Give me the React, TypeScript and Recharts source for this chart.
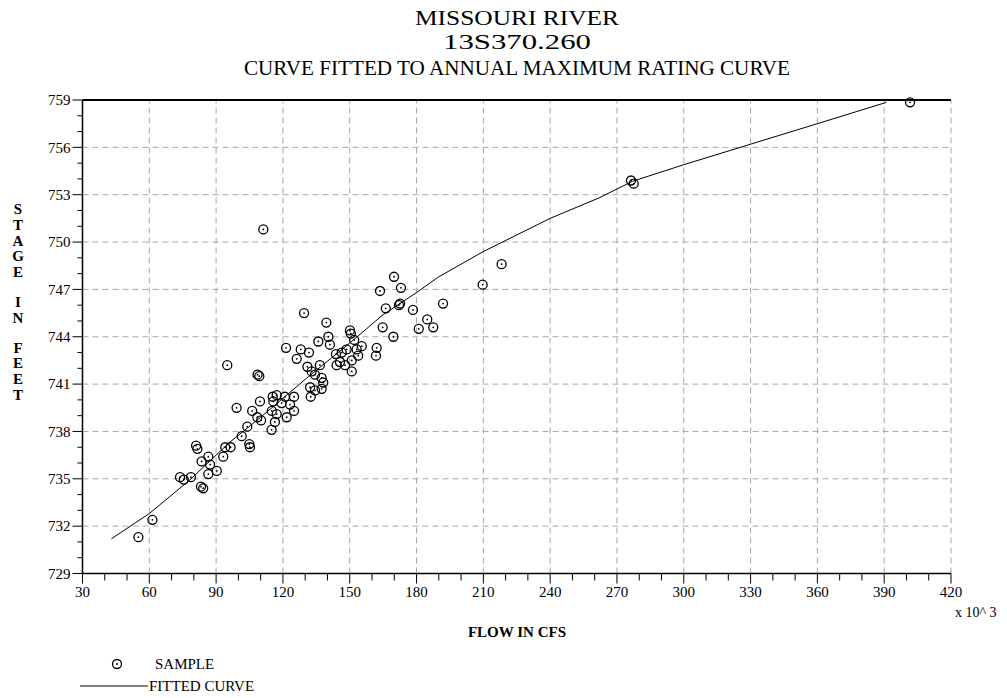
import React from "react";
import { ScatterChart, Scatter, XAxis, YAxis, ReferenceLine } from "recharts";

// axis ticks (every minor step), labelled ones are the majors
const FLOW_TICKS = [
  30, 40, 50, 60, 70, 80, 90, 100, 110, 120, 130, 140, 150, 160, 170, 180, 190, 200,
  210, 220, 230, 240, 250, 260, 270, 280, 290, 300, 310, 320, 330, 340, 350, 360,
  370, 380, 390, 400, 410, 420,
];
const FLOW_LABELS = [30, 60, 90, 120, 150, 180, 210, 240, 270, 300, 330, 360, 390, 420];
const STAGE_TICKS = [
  729, 730, 731, 732, 733, 734, 735, 736, 737, 738, 739, 740, 741, 742, 743, 744, 745,
  746, 747, 748, 749, 750, 751, 752, 753, 754, 755, 756, 757, 758, 759,
];
const STAGE_LABELS = [729, 732, 735, 738, 741, 744, 747, 750, 753, 756, 759];

// samples: flow (x 10^3 cfs) and stage (ft)
const SAMPLE_FLOW = [
  55.1, 61.4, 73.8, 75.5, 78.7, 81.0, 81.6, 83.2, 84.2, 83.5, 86.5, 87.3, 86.5, 90.3,
  93.2, 94.1, 96.5, 95.0, 99.2, 101.5, 104.0, 104.9, 105.2, 106.2, 108.5, 108.6, 109.4,
  109.7, 110.2, 111.2, 114.9, 115.0, 115.4, 115.7, 116.4, 117.2, 117.2, 119.4, 120.9,
  121.4, 121.7, 123.2, 125.0, 125.0, 126.2, 128.0, 129.5, 131.0, 131.7, 132.2, 132.5,
  132.9, 134.4, 134.4, 135.9, 136.6, 137.4, 137.4, 138.1, 139.5, 140.4, 141.1, 143.8,
  144.1, 145.6, 146.4, 147.9, 148.6, 150.1, 150.5, 150.9, 150.9, 152.0, 153.1, 153.8,
  155.4, 161.8, 162.1, 163.6, 164.8, 166.2, 169.6, 169.9, 172.1, 172.6, 173.0, 178.4,
  181.0, 184.8, 187.5, 191.9, 209.7, 218.2, 276.3, 277.5, 401.6,
];
const SAMPLE_STAGE = [
  731.3, 732.4, 735.1, 734.95, 735.1, 737.1, 736.9, 734.5, 734.4, 736.1, 736.4, 735.9,
  735.3, 735.5, 736.4, 737.0, 737.0, 742.2, 739.5, 737.7, 738.3, 737.2, 737.0, 739.3,
  738.9, 741.6, 741.5, 739.9, 738.7, 750.8, 738.1, 739.3, 740.2, 739.9, 738.6, 740.3,
  739.1, 739.8, 740.2, 743.3, 738.9, 739.7, 740.2, 739.3, 742.6, 743.2, 745.5, 742.1,
  743.0, 740.8, 740.2, 741.8, 741.6, 740.6, 743.7, 742.2, 741.4, 740.7, 741.1, 744.9,
  744.0, 743.5, 742.9, 742.2, 742.4, 743.0, 742.2, 743.2, 744.4, 744.2, 742.5, 741.8,
  743.8, 743.2, 742.8, 743.4, 742.8, 743.3, 746.9, 744.6, 745.8, 744.0, 747.8, 746.0,
  746.1, 747.1, 745.7, 744.5, 745.1, 744.6, 746.1, 747.3, 748.6, 753.9, 753.7, 758.85,
];

// fitted curve
const CURVE_FLOW = [43, 60, 78, 96, 110, 120, 130, 150, 165, 180, 190, 210, 240, 262, 277, 300, 330, 360, 391];
const CURVE_STAGE = [
  731.2, 732.8, 734.9, 737.3, 738.9, 740.1, 741.3, 743.6, 745.4, 746.8, 747.8, 749.4,
  751.5, 752.8, 753.85, 754.9, 756.2, 757.5, 758.85,
];

const samples = SAMPLE_FLOW.map((flow, i) => ({ flow, stage: SAMPLE_STAGE[i] }));
const curve = CURVE_FLOW.map((flow, i) => ({ flow, stage: CURVE_STAGE[i] }));

const FONT = "'Liberation Serif', 'Times New Roman', serif";

const Ring = ({ cx, cy }: any) => (
  <g>
    <circle cx={cx} cy={cy} r={4.5} fill="none" stroke="#000" strokeWidth={1.3} />
    <circle cx={cx} cy={cy} r={0.9} fill="#000" />
  </g>
);

const FlowTick = ({ x, y, payload }: any) => {
  const major = FLOW_LABELS.includes(payload.value);
  return (
    <g>
      <line x1={x} x2={x} y1={y} y2={y + (major ? 10 : 7)} stroke="#000" />
      {major && (
        <text x={x} y={y + 23} textAnchor="middle" fontFamily={FONT} fontSize={15} fill="#000">
          {payload.value}
        </text>
      )}
    </g>
  );
};

const StageTick = ({ x, y, payload }: any) => {
  const major = STAGE_LABELS.includes(payload.value);
  return (
    <g>
      <line x1={x - (major ? 10 : 5)} x2={x} y1={y} y2={y} stroke="#000" />
      {major && (
        <text x={x - 12} y={y} dy="0.35em" textAnchor="end" fontFamily={FONT} fontSize={15} fill="#000">
          {payload.value}
        </text>
      )}
    </g>
  );
};

const Y_LETTERS: [string, number][] = [
  ["S", 209], ["T", 225], ["A", 241], ["G", 256], ["E", 272],
  ["I", 302], ["N", 318],
  ["F", 348], ["E", 363], ["E", 379], ["T", 395],
];

export default function App() {
  return (
    <div style={{ position: "absolute", left: 0, top: 0, width: 1007, height: 698, background: "#fff" }}>
      <ScatterChart width={1007} height={698} margin={{ top: 100, right: 56, bottom: 94.5, left: 22.5 }}>
        <XAxis
          type="number"
          dataKey="flow"
          domain={[30, 420]}
          ticks={FLOW_TICKS}
          interval={0}
          tickSize={0}
          tickMargin={0}
          tickLine={false}
          tick={<FlowTick />}
          height={30}
          axisLine={{ stroke: "#000", strokeWidth: 1.5 }}
        />
        <YAxis
          type="number"
          dataKey="stage"
          domain={[729, 759]}
          ticks={STAGE_TICKS}
          interval={0}
          tickSize={0}
          tickMargin={0}
          tickLine={false}
          tick={<StageTick />}
          width={60}
          axisLine={{ stroke: "#000", strokeWidth: 1.5 }}
        />
        {FLOW_LABELS.filter((v) => v > 30).map((v) => (
          <ReferenceLine key={`gx${v}`} x={v} stroke="#a8a8a8" strokeDasharray="6 4" />
        ))}
        {STAGE_LABELS.filter((v) => v > 729 && v < 759).map((v) => (
          <ReferenceLine key={`gy${v}`} y={v} stroke="#a8a8a8" strokeDasharray="6 4" />
        ))}
        <ReferenceLine y={759} stroke="#000" strokeWidth={2} />
        <Scatter
          data={curve}
          line={{ stroke: "#000", strokeWidth: 1 }}
          shape={() => <g />}
          isAnimationActive={false}
        />
        <Scatter data={samples} shape={<Ring />} isAnimationActive={false} />
      </ScatterChart>

      <svg
        width={1007}
        height={698}
        style={{ position: "absolute", left: 0, top: 0, pointerEvents: "none" }}
      >
        <g fontFamily={FONT} fill="#000" textAnchor="middle">
          <text x={517} y={25} fontSize={22} textLength={204} lengthAdjust="spacingAndGlyphs">
            MISSOURI RIVER
          </text>
          <text x={517} y={49} fontSize={22} textLength={148} lengthAdjust="spacingAndGlyphs">
            13S370.260
          </text>
          <text x={517} y={75} fontSize={22} textLength={546} lengthAdjust="spacingAndGlyphs">
            CURVE FITTED TO ANNUAL MAXIMUM RATING CURVE
          </text>
          {Y_LETTERS.map(([ch, cy], i) => (
            <text key={i} x={18} y={cy} dy="0.35em" fontSize={15} fontWeight="bold">
              {ch}
            </text>
          ))}
          <text x={517} y={632} dy="0.35em" fontSize={15} fontWeight="bold">
            FLOW IN CFS
          </text>
        </g>
        <g fontFamily={FONT} fill="#000">
          <text x={955} y={612} dy="0.35em" fontSize={14}>
            x 10^ 3
          </text>
          <circle cx={117} cy={664} r={4.5} fill="none" stroke="#000" strokeWidth={1.3} />
          <circle cx={117} cy={664} r={0.9} fill="#000" />
          <text x={155} y={664} dy="0.35em" fontSize={15}>
            SAMPLE
          </text>
          <line x1={80} x2={148} y1={686} y2={686} stroke="#000" strokeWidth={1.2} />
          <text x={149} y={686} dy="0.35em" fontSize={15}>
            FITTED CURVE
          </text>
        </g>
      </svg>
    </div>
  );
}
